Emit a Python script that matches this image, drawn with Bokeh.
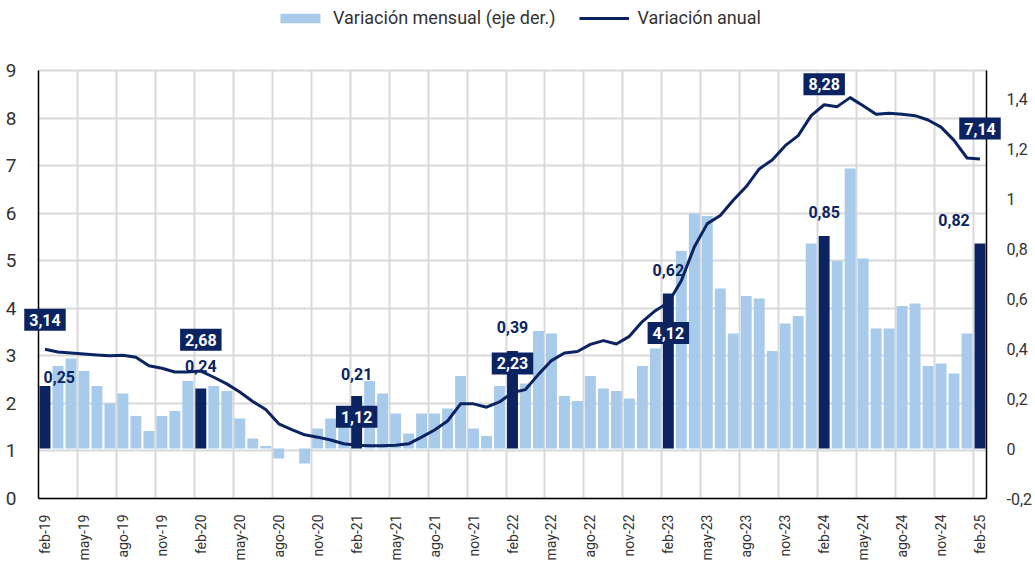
import math
from bokeh.plotting import figure
from bokeh.models import (Range1d, LinearAxis, FixedTicker, Grid, Label, Legend, LegendItem,
                          ColumnDataSource, CustomJSTickFormatter)
from bokeh.embed import file_html
from bokeh.resources import INLINE

# ---------------- data ----------------
mes = ["ene", "feb", "mar", "abr", "may", "jun", "jul", "ago", "sep", "oct", "nov", "dic"]
months = [f"{mes[(1 + i) % 12]}-{19 + (1 + i) // 12}" for i in range(73)]  # feb-19 ... feb-25

# Variación mensual (eje der.)
monthly = [0.25, 0.33, 0.36, 0.31, 0.25, 0.18, 0.22, 0.13, 0.07, 0.13, 0.15, 0.27,
           0.24, 0.25, 0.23, 0.12, 0.04, 0.01, -0.04, 0.00, -0.06, 0.08, 0.12, 0.17,
           0.21, 0.27, 0.22, 0.14, 0.06, 0.14, 0.14, 0.16, 0.29, 0.08, 0.05, 0.25,
           0.39, 0.26, 0.47, 0.46, 0.21, 0.19, 0.29, 0.24, 0.23, 0.20, 0.33, 0.40,
           0.62, 0.79, 0.94, 0.93, 0.64, 0.46, 0.61, 0.60, 0.39, 0.50, 0.53, 0.82,
           0.85, 0.75, 1.12, 0.76, 0.48, 0.48, 0.57, 0.58, 0.33, 0.34, 0.30, 0.46,
           0.82]

# Variación anual
annual = [3.14, 3.08, 3.06, 3.04, 3.02, 3.00, 3.01, 2.97, 2.79, 2.74, 2.66, 2.66,
          2.68, 2.55, 2.41, 2.24, 2.04, 1.87, 1.57, 1.45, 1.34, 1.29, 1.23, 1.15,
          1.12, 1.11, 1.11, 1.12, 1.15, 1.29, 1.44, 1.63, 1.99, 1.99, 1.92, 2.03,
          2.23, 2.29, 2.61, 2.90, 3.06, 3.09, 3.24, 3.32, 3.25, 3.41, 3.72, 3.95,
          4.12, 4.58, 5.29, 5.78, 5.95, 6.27, 6.56, 6.93, 7.12, 7.42, 7.63, 8.05,
          8.28, 8.24, 8.43, 8.26, 8.08, 8.10, 8.08, 8.05, 7.96, 7.81, 7.53, 7.16,
          7.14]

assert len(months) == len(monthly) == len(annual) == 73

left_ticks = [0, 1, 2, 3, 4, 5, 6, 7, 8, 9]
right_ticks = [-0.2, 0, 0.2, 0.4, 0.6, 0.8, 1.0, 1.2, 1.4]
LEFT_MIN, LEFT_MAX = 0, 9
RIGHT_MIN, RIGHT_MAX = -0.2, 1.512

# ---------------- style / geometry ----------------
NAVY = "#0b2461"
LIGHT = "#a8caeb"
GRID = "#d9d9d9"
TXT = "#333333"
FONT = "Roboto"

W, H = 1033, 562                 # canvas
PL, PR, PT, PB = 38, 47, 70, 64  # space around the plotting area (axes drawn at fixed locations)
n = len(months)
ux = (W - PL - PR) / n
uy = (H - PT - PB) / (LEFT_MAX - LEFT_MIN)
ur = (H - PT - PB) / (RIGHT_MAX - RIGHT_MIN)
XA, XB = -0.5, n - 0.5

idx = list(range(n))
is_feb = [m.startswith("feb") for m in months]

p = figure(frame_width=W, frame_height=H, output_backend="svg", toolbar_location=None,
           x_range=Range1d(XA - PL / ux, XB + PR / ux),
           y_range=Range1d(LEFT_MIN - PB / uy, LEFT_MAX + PT / uy),
           min_border_left=0, min_border_right=0, min_border_top=0, min_border_bottom=0)
p.extra_y_ranges = {"right": Range1d(RIGHT_MIN - PB / ur, RIGHT_MAX + PT / ur)}
p.title.visible = False
p.outline_line_color = None
p.background_fill_color = "white"
p.border_fill_color = "white"

# grids
p.xgrid.visible = False
p.ygrid.visible = False
hgrid = Grid(dimension=1, ticker=FixedTicker(ticks=left_ticks), cross_bounds=(XA, XB),
             grid_line_color=GRID, grid_line_width=2)
vgrid = Grid(dimension=0, ticker=FixedTicker(ticks=[k - 0.5 for k in range(3, n, 3)]),
             cross_bounds=(LEFT_MIN, LEFT_MAX), grid_line_color=GRID, grid_line_width=2)
p.add_layout(hgrid)
p.add_layout(vgrid)

# bars
light_src = ColumnDataSource(dict(x=[i for i in idx if not is_feb[i]],
                                  top=[monthly[i] for i in idx if not is_feb[i]]))
dark_src = ColumnDataSource(dict(x=[i for i in idx if is_feb[i]],
                                 top=[monthly[i] for i in idx if is_feb[i]]))
r_light = p.vbar(x="x", top="top", bottom=0, width=0.84, source=light_src,
                 fill_color=LIGHT, line_color=None, y_range_name="right")
r_dark = p.vbar(x="x", top="top", bottom=0, width=0.84, source=dark_src,
                fill_color=NAVY, line_color=None, y_range_name="right")

# line
r_line = p.line(idx, annual, line_color=NAVY, line_width=3, line_join="round")

# axes (drawn at fixed data locations)
ax = p.xaxis[0]
ax.fixed_location = LEFT_MIN
ax.bounds = (XA, XB)
ax.ticker = FixedTicker(ticks=list(range(0, n, 3)))
ax.formatter = CustomJSTickFormatter(args=dict(labels=months),
                                     code="return labels[Math.round(tick)] || '';")
ax.major_label_orientation = math.pi / 2
ax.major_label_text_font = FONT
ax.major_label_text_font_size = "14px"
ax.major_label_text_color = TXT
ax.major_label_standoff = 10
ax.major_tick_line_color = None
ax.minor_tick_line_color = None
ax.axis_line_color = "black"
ax.axis_line_width = 1.5

ay = p.yaxis[0]
ay.fixed_location = XA
ay.bounds = (LEFT_MIN, LEFT_MAX)
ay.ticker = FixedTicker(ticks=left_ticks)
ay.major_label_text_font = FONT
ay.major_label_text_font_size = "19px"
ay.major_label_text_color = TXT
ay.major_label_standoff = 16
ay.major_tick_line_color = None
ay.minor_tick_line_color = None
ay.axis_line_color = "black"
ay.axis_line_width = 1.5

ar = LinearAxis(y_range_name="right", fixed_location=XB, bounds=(RIGHT_MIN, RIGHT_MAX),
                ticker=FixedTicker(ticks=right_ticks),
                formatter=CustomJSTickFormatter(code="const v = Math.round(tick*10)/10; return v.toString().replace('.', ',');"))
ar.major_label_text_font = FONT
ar.major_label_text_font_size = "16px"
ar.major_label_text_color = TXT
ar.major_label_standoff = 14
ar.major_tick_line_color = None
ar.minor_tick_line_color = None
ar.axis_line_color = "black"
ar.axis_line_width = 1.5
p.add_layout(ar, "right")


def fmt(v):
    return f"{v:.2f}".replace(".", ",")


# annual labels (white on navy boxes): (index, vertical offset in left-axis units)
line_labels = [(0, 0.62), (12, 0.66), (24, 0.60), (36, 0.61), (48, -0.64), (60, 0.43), (72, 0.64)]
for k, dy in line_labels:
    p.add_layout(Label(x=k, y=annual[k] + dy, text=fmt(annual[k]), text_align="center",
                       text_baseline="middle", text_color="white", text_font=FONT,
                       text_font_style="bold", text_font_size="16px",
                       background_fill_color=NAVY, padding=5))

# monthly labels (navy text): (index, x position, vertical offset in right-axis units)
bar_labels = [(0, 1.1, 0.036), (12, 12, 0.09), (24, 24, 0.09), (36, 36, 0.096),
              (48, 48, 0.096), (60, 60, 0.096), (72, 70, 0.096)]
for k, xp, dy in bar_labels:
    p.add_layout(Label(x=xp, y=monthly[k] + dy, y_range_name="right", text=fmt(monthly[k]),
                       text_align="center", text_baseline="middle", text_color=NAVY,
                       text_font=FONT, text_font_style="bold", text_font_size="16px"))

legend = Legend(items=[LegendItem(label="Variación mensual (eje der.)", renderers=[r_light]),
                       LegendItem(label="Variación anual", renderers=[r_line])],
                orientation="horizontal", location=(275, H - 28),
                border_line_color=None, background_fill_alpha=0,
                glyph_width=50, glyph_height=12, label_text_font=FONT,
                label_text_font_size="18px", label_text_color=TXT,
                spacing=24, padding=0, margin=0, label_standoff=8)
p.add_layout(legend)

open("out.html", "w").write(file_html(p, INLINE))
